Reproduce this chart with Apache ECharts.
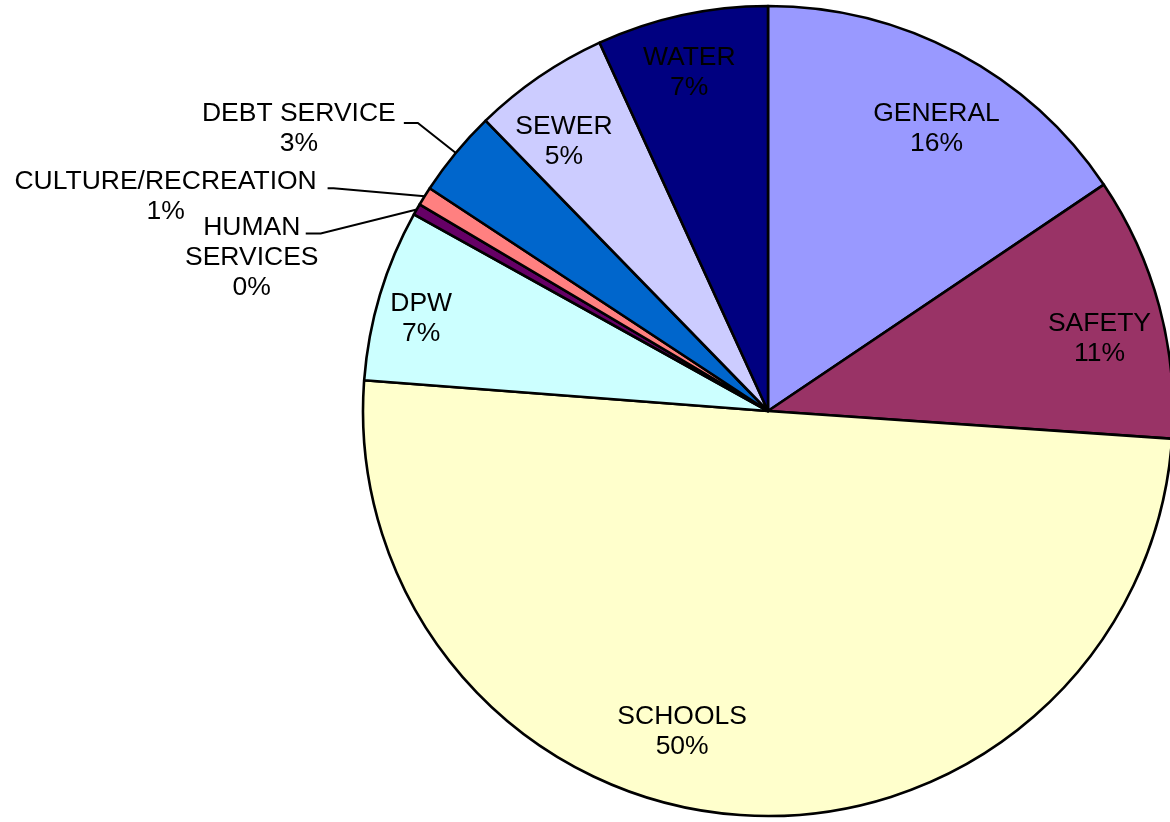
<!DOCTYPE html>
<html>
<head>
<meta charset="utf-8">
<script src="https://cdn.jsdelivr.net/npm/echarts@6/dist/echarts.min.js"></script>
<style>
  html, body { margin: 0; padding: 0; background: #ffffff; }
  #chart { width: 1170px; height: 822px; }
</style>
</head>
<body>
<div id="chart"></div>
<script>
// ---- data ----
const categories = ['GENERAL', 'SAFETY', 'SCHOOLS', 'DPW', 'HUMAN SERVICES', 'CULTURE/RECREATION', 'DEBT SERVICE', 'SEWER', 'WATER'];
const values = [15.55, 10.52, 50.08, 6.85, 0.45, 0.75, 3.45, 5.45, 6.82];
const colors = ['#9999FF', '#993366', '#FFFFCC', '#CCFFFF', '#660066', '#FF8080', '#0066CC', '#CCCCFF', '#000080'];
const outsideLabels = ['HUMAN SERVICES', 'CULTURE/RECREATION', 'DEBT SERVICE'];

// ---- label placement tweaks (relative offsets, px) ----
const insideNudge = {
  'GENERAL': [72, -101], 'SAFETY': [133, -19], 'SCHOOLS': [-71, 116],
  'DPW': [-150, -33], 'SEWER': [-88, -100], 'WATER': [-35, -138]
};
const leader = {
  'DEBT SERVICE': { bend: [-38, -30], end: -52, text: [-157, -54] },
  'CULTURE/RECREATION': { bend: [-91, -8], end: -97, text: [-259, -30] },
  'HUMAN SERVICES': { bend: [-96, 24], end: -111, text: [-165, 3] }
};

const chart = echarts.init(document.getElementById('chart'), null, { renderer: 'canvas' });

const pieData = categories.map((name, i) => {
  const item = { name: name, value: values[i], itemStyle: { color: colors[i] } };
  if (outsideLabels.indexOf(name) >= 0) {
    item.label = { position: 'outside' };
    item.labelLine = { show: true, length: 10, length2: 10 };
  }
  return item;
});

const option = {
  backgroundColor: '#ffffff',
  animation: false,
  series: [{
    type: 'pie',
    center: [768, 411],
    radius: [0, 405],
    startAngle: 90,
    clockwise: true,
    avoidLabelOverlap: false,
    silent: true,
    data: pieData,
    itemStyle: { borderColor: '#000000', borderWidth: 2.6 },
    label: {
      show: true,
      position: 'inside',
      color: '#000000',
      fontFamily: 'Arial, "Liberation Sans", sans-serif',
      fontSize: 26.5,
      lineHeight: 30,
      textBorderWidth: 0,
      align: 'center',
      formatter: function (p) {
        const nm = p.name === 'HUMAN SERVICES' ? 'HUMAN\nSERVICES' : p.name;
        return nm + '\n' + Math.round(p.percent) + '%';
      }
    },
    labelLine: { show: false, lineStyle: { color: '#000000', width: 2 } },
    labelLayout: function (params) {
      const name = categories[params.dataIndex];
      if (leader[name] && params.labelLinePoints) {
        const e = params.labelLinePoints[0];
        const c = leader[name];
        const bx = e[0] + c.bend[0], by = e[1] + c.bend[1];
        return {
          x: e[0] + c.text[0],
          y: e[1] + c.text[1],
          align: 'center',
          verticalAlign: 'top',
          labelLinePoints: [[e[0], e[1]], [bx, by], [e[0] + c.end, by]]
        };
      }
      if (insideNudge[name]) {
        const r = params.labelRect;
        return {
          x: r.x + r.width / 2 + insideNudge[name][0],
          y: r.y + r.height / 2 + insideNudge[name][1],
          align: 'center',
          verticalAlign: 'middle'
        };
      }
      return {};
    },
    emphasis: { disabled: true }
  }]
};

chart.setOption(option);
</script>
</body>
</html>
